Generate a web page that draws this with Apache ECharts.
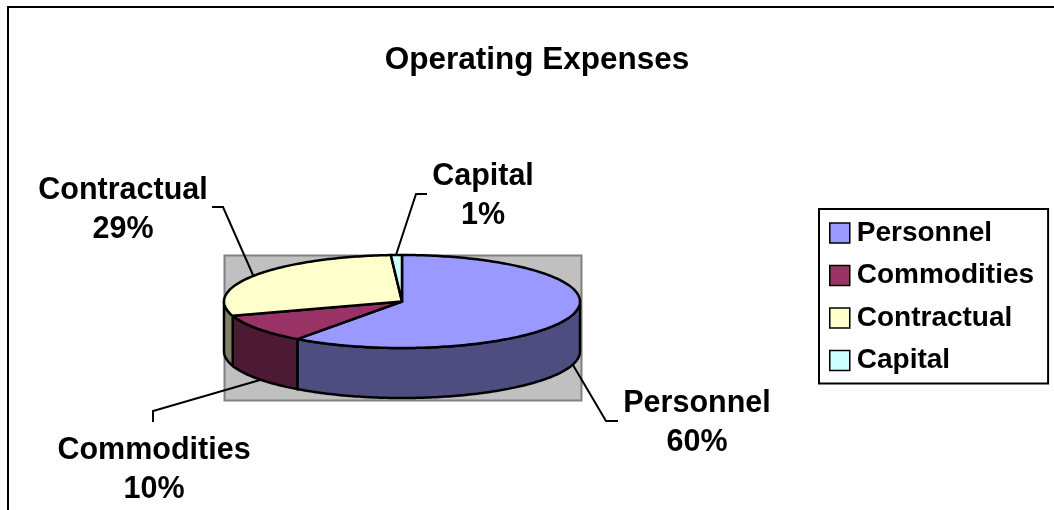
<!DOCTYPE html>
<html>
<head>
<meta charset="utf-8">
<title>Operating Expenses</title>
<style>
  html, body { margin: 0; padding: 0; background: #fff; }
  #chart { width: 1054px; height: 510px; }
</style>
<script src="https://cdn.jsdelivr.net/npm/echarts@6/dist/echarts.min.js"></script>
</head>
<body>
<div id="chart"></div>
<script>
const categories = ['Personnel', 'Commodities', 'Contractual', 'Capital']
const values = [60, 10, 29, 1]

const topColors = ['#9999FF', '#993366', '#FFFFCC', '#CCFFFF']
const sideColors = ['#4D4D80', '#4D1A33', '#808066', '#668080']

// squashed pie geometry, in pixels
const pie = { cx: 402, cy: 301.5, rx: 178, ry: 46.5, depth: 50 }
const plotBox = { x: 224.5, y: 255.5, width: 357, height: 145 }

const labelPos = [[697, 423], [154, 470], [123, 210], [483, 196]]
const leaders = [
  [[573, 365], [606, 421], [618, 421]],
  [[260, 380], [153, 411], [153, 422]],
  [[253, 275], [223, 207], [212, 207]],
  [[396, 255], [416, 194], [427, 194]]
]

const total = values.reduce((a, b) => a + b, 0)
const FONT = '"Liberation Sans", Arial, sans-serif'

// angle is clockwise from 12 o'clock, in degrees
function rim(deg, drop) {
  const r = deg * Math.PI / 180
  return [pie.cx + pie.rx * Math.sin(r), pie.cy - pie.ry * Math.cos(r) + (drop || 0)]
}

function arcPoints(from, to, drop) {
  const pts = []
  for (let d = from; d < to; d += 1) pts.push(rim(d, drop))
  pts.push(rim(to, drop))
  return pts
}

function makeRenderItem(index) {
  return function (params, api) {
    const before = values.slice(0, index).reduce((a, b) => a + b, 0)
    const start = before / total * 360
    const end = start + api.value(0) / total * 360
    const children = []

    // the wall only shows on the front half of the pie
    const wallFrom = Math.max(start, 90)
    const wallTo = Math.min(end, 270)
    if (wallTo > wallFrom) {
      const upper = arcPoints(wallFrom, wallTo, 0)
      const lower = arcPoints(wallFrom, wallTo, pie.depth).reverse()
      children.push({
        type: 'polygon',
        shape: { points: upper.concat(lower) },
        style: { fill: sideColors[index], stroke: '#000', lineWidth: 2.5 }
      })
    }

    children.push({
      type: 'polygon',
      shape: { points: [[pie.cx, pie.cy]].concat(arcPoints(start, end, 0)) },
      style: { fill: topColors[index], stroke: '#000', lineWidth: 2.5, lineJoin: 'round' }
    })

    children.push({
      type: 'polyline',
      shape: { points: leaders[index] },
      style: { fill: null, stroke: '#000', lineWidth: 2 }
    })

    children.push({
      type: 'text',
      x: labelPos[index][0],
      y: labelPos[index][1],
      style: {
        text: categories[index] + '\n' + Math.round(api.value(0) / total * 100) + '%',
        font: 'bold 30.5px ' + FONT,
        fill: '#000',
        align: 'center',
        verticalAlign: 'middle',
        lineHeight: 39
      }
    })

    return { type: 'group', children }
  }
}

const chart = echarts.init(document.getElementById('chart'), null, { renderer: 'canvas' })
chart.setOption({
  animation: false,
  backgroundColor: '#fff',
  title: {
    text: 'Operating Expenses',
    left: 532,
    top: 39,
    textAlign: 'center',
    textStyle: { fontFamily: FONT, fontWeight: 'bold', fontSize: 31.5, color: '#000' }
  },
  legend: {
    orient: 'vertical',
    left: 819,
    top: 209,
    padding: [10, 14, 9, 10],
    borderColor: '#000',
    borderWidth: 2,
    backgroundColor: '#fff',
    icon: 'rect',
    itemWidth: 20,
    itemHeight: 20,
    itemGap: 14.5,
    selectedMode: false,
    data: categories,
    itemStyle: { borderColor: '#000', borderWidth: 1.5 },
    textStyle: { fontFamily: FONT, fontWeight: 'bold', fontSize: 28, color: '#000', padding: [0, 0, 0, 2] }
  },
  graphic: [
    {
      type: 'rect',
      shape: plotBox,
      style: { fill: '#C0C0C0', stroke: '#808080', lineWidth: 2 }
    },
    {
      type: 'polyline',
      shape: { points: [[8, 510], [8, 7], [1054, 7]] },
      style: { fill: null, stroke: '#000', lineWidth: 2 }
    }
  ],
  series: categories.map((name, i) => ({
    type: 'custom',
    name,
    coordinateSystem: 'none',
    itemStyle: { color: topColors[i] },
    renderItem: makeRenderItem(i),
    data: [[values[i]]]
  }))
})
</script>
</body>
</html>
